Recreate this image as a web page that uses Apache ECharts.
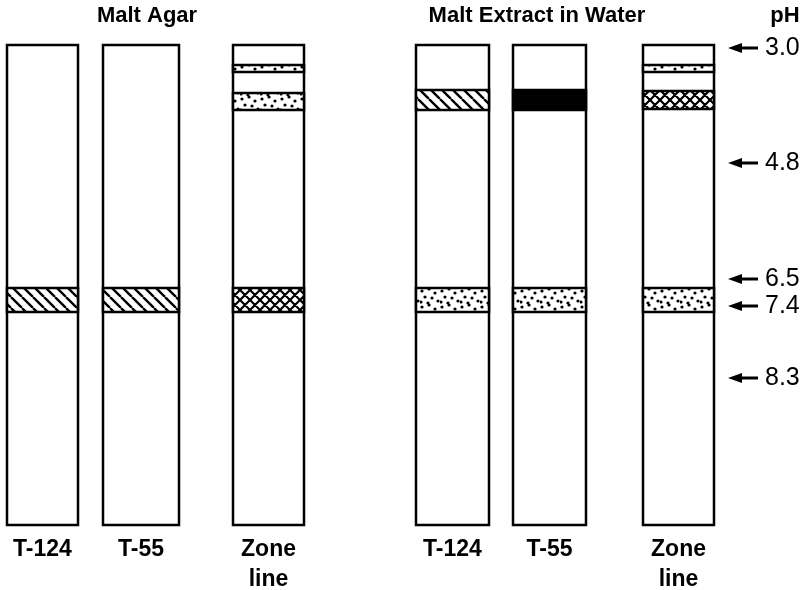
<!DOCTYPE html>
<html>
<head>
<meta charset="utf-8">
<script src="https://cdn.jsdelivr.net/npm/echarts@6/dist/echarts.min.js"></script>
<style>
html,body{margin:0;padding:0;background:#fff;}
#chart{width:811px;height:590px;}
</style>
</head>
<body>
<div id="chart"></div>
<script>
// ---- data (gel position units: 0 = top of strip, 480 = bottom) ----
const mediums = ['Malt Agar', 'Malt Extract in Water'];
const laneNames = ['T-124', 'T-55', 'Zone\nline', 'T-124', 'T-55', 'Zone\nline'];
const bandStarts = [[243], [243], [20, 48, 243], [45, 243], [45, 243], [20, 46, 243]];
const bandEnds   = [[267], [267], [27, 65, 267], [65, 267], [65, 267], [27, 64, 267]];
const bandTypes  = [['hatch'], ['hatch'], ['dots', 'dots', 'cross'], ['hatch', 'dots'], ['solid', 'dots'], ['dots', 'cross', 'dots']];
const phValues = [3.0, 4.8, 6.5, 7.4, 8.3];
const phPositions = [3, 118, 234, 261, 333];
const stripLength = 480;

// ---- layout (pixels) ----
const laneLeft  = [7, 103, 233, 416, 513, 643];
const laneWidth = [71, 76, 71, 73, 73, 71];
const stripTop = 45;

// ---- fill patterns ----
function mk(w, h, draw) {
  const c = document.createElement('canvas');
  c.width = w; c.height = h;
  const g = c.getContext('2d');
  g.fillStyle = '#fff'; g.fillRect(0, 0, w, h);
  g.strokeStyle = '#000'; g.fillStyle = '#000';
  draw(g);
  return c;
}
const patHatch = mk(11, 11, g => {
  g.lineWidth = 2.4; g.beginPath();
  [-11, 0, 11].forEach(o => { g.moveTo(o, 0); g.lineTo(o + 11, 11); });
  g.stroke();
});
const patCross = mk(10, 10, g => {
  g.lineWidth = 2.2; g.beginPath();
  [-10, 0, 10].forEach(o => { g.moveTo(o, 0); g.lineTo(o + 10, 10); g.moveTo(o + 10, 0); g.lineTo(o, 10); });
  g.stroke();
});
const patDots = mk(20, 16, g => {
  [[2, 3], [9, 1], [15, 5], [5, 9], [12, 10], [18, 13], [1, 14], [8, 15]].forEach(([x, y]) => {
    g.beginPath(); g.arc(x, y, 1.6, 0, Math.PI * 2); g.fill();
  });
});
const fills = {
  hatch: { image: patHatch, repeat: 'repeat' },
  cross: { image: patCross, repeat: 'repeat' },
  dots: { image: patDots, repeat: 'repeat' },
  solid: '#000'
};

const FONT = 'Liberation Sans, Arial, Helvetica, sans-serif';

const grid = [], xAxis = [], yAxis = [], series = [];
laneNames.forEach((name, i) => {
  grid.push({
    left: laneLeft[i], top: stripTop, width: laneWidth[i], height: 480,
    outerBoundsMode: 'none', containLabel: false,
    show: true, borderColor: '#000', borderWidth: 2.5, backgroundColor: '#fff'
  });
  xAxis.push({
    gridIndex: i, type: 'category', data: [name],
    axisLine: { show: false }, axisTick: { show: false }, splitLine: { show: false },
    axisLabel: { interval: 0, margin: 10, fontSize: 23, fontWeight: 'bold', color: '#000',
      fontFamily: FONT, lineHeight: 30, verticalAlign: 'top' }
  });
  yAxis.push({ gridIndex: i, type: 'value', min: 0, max: stripLength, inverse: true, show: false });
  const types = bandTypes[i];
  series.push({
    type: 'custom', xAxisIndex: i, yAxisIndex: i, silent: true,
    data: bandStarts[i].map((s, k) => [0, s, bandEnds[i][k]]),
    renderItem: (params, api) => {
      const cs = params.coordSys;
      const p1 = api.coord([0, api.value(1)]);
      const p2 = api.coord([0, api.value(2)]);
      return {
        type: 'rect',
        shape: { x: cs.x, y: p1[1], width: cs.width, height: p2[1] - p1[1] },
        style: { fill: fills[types[params.dataIndex]], stroke: '#000', lineWidth: 2.5 }
      };
    }
  });
});

// pH marker column
grid.push({ left: 728, top: stripTop, width: 30, height: 480, outerBoundsMode: 'none' });
xAxis.push({ gridIndex: 6, type: 'value', min: 0, max: 1, show: false });
yAxis.push({ gridIndex: 6, type: 'value', min: 0, max: stripLength, inverse: true, show: false });
series.push({
  type: 'scatter', xAxisIndex: 6, yAxisIndex: 6, silent: true,
  symbol: 'path://M0,5 L14,0 L14,3.6 L30,3.6 L30,6.4 L14,6.4 L14,10 Z',
  symbolSize: [30, 10],
  itemStyle: { color: '#000', opacity: 1 },
  data: phPositions.map((p, i) => [0.5, p, phValues[i]]),
  label: { show: true, position: 'right', distance: 7, color: '#000', opacity: 1, fontSize: 25,
    fontFamily: FONT, formatter: p => p.value[2].toFixed(1) }
});

const titleStyle = { fontSize: 22, fontWeight: 'bold', color: '#000', fontFamily: FONT };
const chart = echarts.init(document.getElementById('chart'), null, { renderer: 'canvas' });
chart.setOption({
  animation: false,
  backgroundColor: '#fff',
  title: [
    { text: mediums[0], left: 147, top: 5, padding: 0, textAlign: 'center', textStyle: titleStyle },
    { text: mediums[1], left: 537, top: 5, padding: 0, textAlign: 'center', textStyle: titleStyle },
    { text: 'pH', left: 785, top: 5, padding: 0, textAlign: 'center', textStyle: titleStyle }
  ],
  grid: grid, xAxis: xAxis, yAxis: yAxis, series: series
});
</script>
</body>
</html>
